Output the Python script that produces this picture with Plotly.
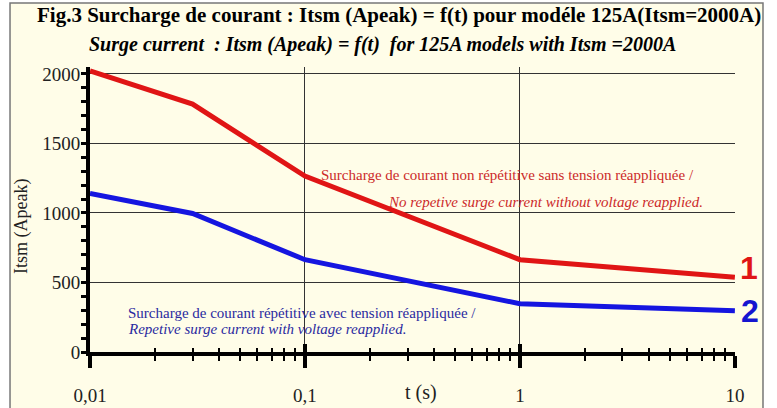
import plotly.graph_objects as go

# ---- data ----
t_s = [0.01, 0.03, 0.1, 1, 10]
itsm_non_rep = [2022, 1783, 1266, 664, 538]   # courbe 1 (rouge)
itsm_rep = [1141, 996, 664, 347, 296]         # courbe 2 (bleue)

x_tickvals = [0.01, 0.1, 1, 10]
x_ticktext = ["0,01", "0,1", "1", "10"]
y_tickvals = [0, 500, 1000, 1500, 2000]
y_ticktext = ["0", "500", "1000", "1500", "2000"]
minor_mult = [2, 3, 4, 5, 6, 7, 8, 9]
decades = [0.01, 0.1, 1]
x_minor = [d * m for d in decades for m in minor_mult]

title1 = "Fig.3 Surcharge de courant : Itsm (Apeak) = f(t) pour modéle 125A(Itsm=2000A)"
title2 = "Surge current\u00a0 : Itsm (Apeak) = f(t)\u00a0 for 125A models with Itsm =2000A"
red_l1 = "Surcharge de courant non répétitive sans tension réappliquée /"
red_l2 = "No repetive surge current without voltage reapplied."
blue_l1 = "Surcharge de courant répétitive avec tension réappliquée /"
blue_l2 = "Repetive surge current with voltage reapplied."

SERIF = "Liberation Serif"
CREAM = "#FFFDE8"
RED = "#e01515"
BLUE = "#1515e0"

fig = go.Figure()
fig.add_trace(go.Scatter(x=t_s, y=itsm_non_rep, mode="lines",
                         line=dict(color=RED, width=5), showlegend=False))
fig.add_trace(go.Scatter(x=t_s, y=itsm_rep, mode="lines",
                         line=dict(color=BLUE, width=5), showlegend=False))
fig.add_trace(go.Scatter(x=t_s, y=itsm_rep, mode="lines", xaxis="x2",
                         line=dict(width=0), opacity=0, hoverinfo="skip",
                         showlegend=False))

fig.update_layout(
    width=777, height=408,
    margin=dict(l=90, r=42, t=67, b=56),
    paper_bgcolor="white",
    plot_bgcolor=CREAM,
    font=dict(family=SERIF, color="black"),
    xaxis=dict(
        type="log", range=[-2, 1.0005], automargin=False,
        tickmode="array", tickvals=x_tickvals, ticktext=x_ticktext,
        ticks="outside", ticklen=12, tickwidth=4, tickcolor="black",
        ticklabelstandoff=11,
        tickfont=dict(family=SERIF, size=19, color="#222"),
        showline=True, linewidth=4, linecolor="black",
        showgrid=True, gridcolor="#333", gridwidth=1,
        zeroline=False,
        minor=dict(tickmode="array", tickvals=x_minor, ticks="outside",
                   ticklen=5, tickwidth=2, tickcolor="black", showgrid=False),
    ),
    xaxis2=dict(
        type="log", range=[-2, 1.0005], overlaying="x", anchor="y", side="bottom",
        automargin=False,
        tickmode="array", tickvals=x_tickvals,
        ticks="inside", ticklen=8, tickwidth=4, tickcolor="black",
        showticklabels=False, showgrid=False, showline=False, zeroline=False,
        minor=dict(tickmode="array", tickvals=x_minor, ticks="inside",
                   ticklen=4, tickwidth=2, tickcolor="black", showgrid=False),
    ),
    yaxis=dict(
        range=[0, 2050], automargin=False,
        tickmode="array", tickvals=y_tickvals, ticktext=y_ticktext,
        ticks="outside", ticklen=5, tickwidth=3, tickcolor="black",
        ticklabelstandoff=-3,
        tickfont=dict(family=SERIF, size=19, color="#222"),
        showline=True, linewidth=4, linecolor="black",
        showgrid=True, gridcolor="#333", gridwidth=1,
        zeroline=False,
        minor=dict(dtick=100, ticks="outside", ticklen=5, tickwidth=3,
                   tickcolor="black", showgrid=False),
    ),
    shapes=[dict(type="rect", xref="paper", yref="paper",
                 x0=-0.124, x1=1.0434, y0=-0.25, y1=1.2246,
                 line=dict(color="#777", width=1.5), fillcolor=CREAM,
                 layer="below")],
)

ann = [
    dict(text=title1, x=0.479, y=1.1825,
         font=dict(family=SERIF, size=21, color="black", weight=700)),
    dict(text=title2, x=-0.005, y=1.0772, xanchor="left",
         font=dict(family=SERIF, size=20, color="black",
                   weight=700, style="italic")),
    dict(text="Itsm (Apeak)", x=-0.107, y=0.442, textangle=-90,
         font=dict(family=SERIF, size=18, color="#222")),
    dict(text="t (s)", x=0.513, y=-0.1404,
         font=dict(family=SERIF, size=20, color="#222")),
    dict(text=red_l1, x=0.355, y=0.621, xanchor="left",
         font=dict(family=SERIF, size=15, color="#cc2a2a")),
    dict(text=red_l2, x=0.9535, y=0.526, xanchor="right",
         font=dict(family=SERIF, size=15, color="#cc2a2a", style="italic")),
    dict(text=blue_l1, x=0.0558, y=0.1368, xanchor="left",
         font=dict(family=SERIF, size=15, color="#2a2aa0")),
    dict(text=blue_l2, x=0.0558, y=0.0807, xanchor="left",
         font=dict(family=SERIF, size=15, color="#2a2aa0", style="italic")),
    dict(text="<b>1</b>", x=1.0217, y=0.2947,
         font=dict(family="Liberation Sans", size=32, color="#e01515")),
    dict(text="<b>2</b>", x=1.0233, y=0.1439,
         font=dict(family="Liberation Sans", size=32, color="#1515d0")),
]
for a in ann:
    a.update(xref="paper", yref="paper", showarrow=False)
    a.setdefault("xanchor", "center")
    a.setdefault("yanchor", "middle")
fig.update_layout(annotations=ann)

fig.write_html("out.html", config={"displayModeBar": False},
               post_script="document.body.style.margin='0';")
